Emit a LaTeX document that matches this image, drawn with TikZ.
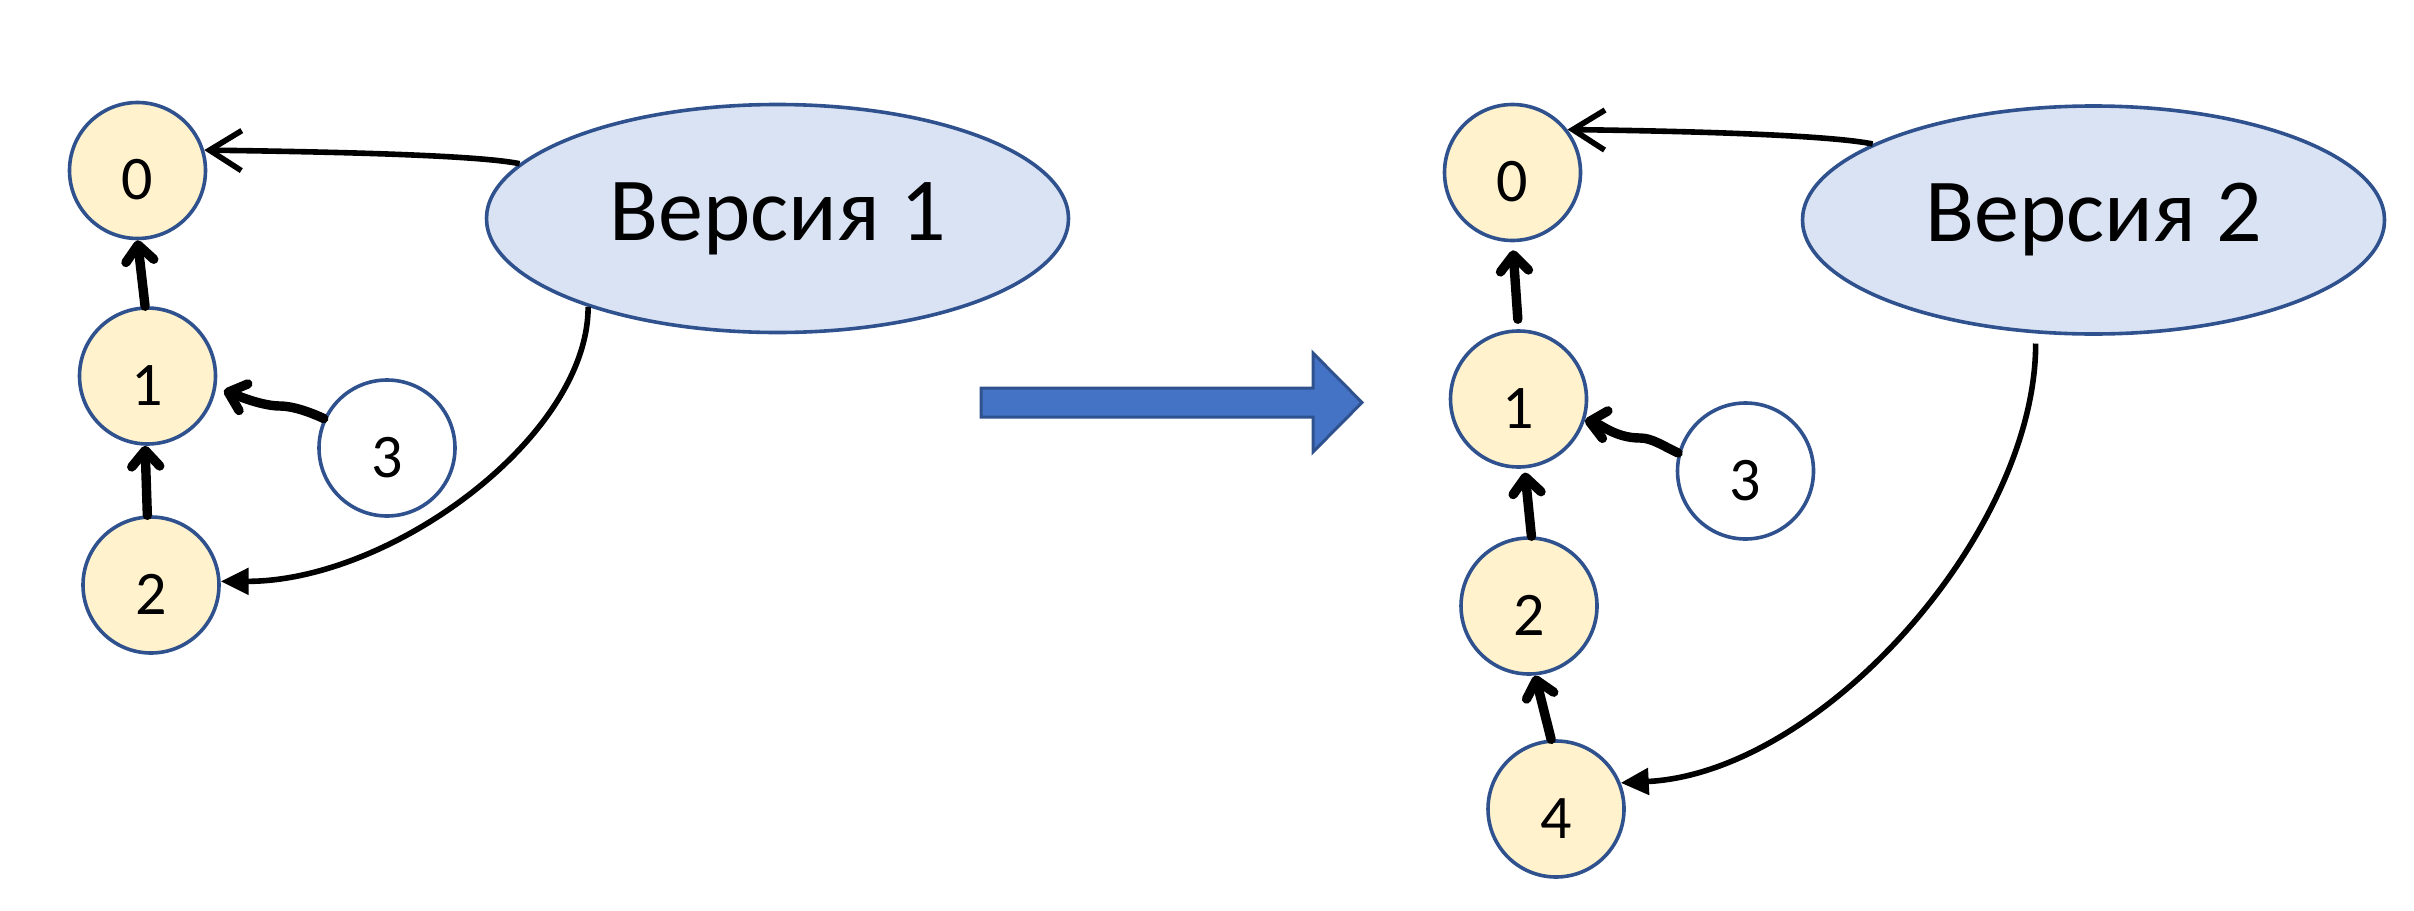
\documentclass[tikz,border=0pt]{standalone}
\usepackage{fontspec}
\setmainfont{Carlito}
\usetikzlibrary{arrows.meta,shapes.geometric}
\definecolor{nodeedge}{HTML}{2F528F}
\definecolor{nodefill}{HTML}{FFF2CC}
\definecolor{verfill}{HTML}{DAE3F3}
\definecolor{bigarrow}{HTML}{4472C4}

\begin{document}
\begin{tikzpicture}[x=0.5pt,y=-0.5pt,
  vnode/.style={circle, draw=nodeedge, line width=1.8pt, fill=nodefill,
    minimum size=68pt, inner sep=0pt, font=\fontsize{31}{31}\selectfont,
    text height=29pt, text depth=0pt},
  freenode/.style={vnode, fill=white},
  version/.style={ellipse, draw=nodeedge, line width=1.8pt, fill=verfill,
    minimum width=291pt, minimum height=114pt, inner sep=0pt,
    font=\fontsize{45}{45}\selectfont},
  link/.style={line width=4.7pt, line cap=round, line join=round,
    -{Straight Barb[length=8pt,width=14pt,round]}},
  headref/.style={line width=2.8pt, -{Straight Barb[length=16pt,width=20pt]}},
  rootref/.style={line width=2.8pt, -{Triangle[length=14pt,width=13pt]}}]

\useasboundingbox (0,0) rectangle (2414,910);

% ---- version 1 ----
\node[vnode] (a0) at (137.5,170.5) {0};
\node[vnode] (a1) at (147.5,376) {1};
\node[vnode] (a2) at (151,585) {2};
\node[freenode] (a3) at (387,448) {3};
\node[version] (v1) at (777.5,218.5) {Версия 1};

\draw[headref] (v1.168) .. controls +(-40,-8) and +(150,2) .. (a0.17);
\draw[rootref] (v1.205) .. controls +(0,130) and +(170,0) .. (a2.3);
\draw[link] (a1.92) -- (a0.270);
\draw[link] (a2.93) -- (a1.268);
\coordinate (w1) at (280,406);
\draw[link, shorten >=4pt] (a3.155) .. controls +(-15,-7) and +(12,0) .. (w1)
  .. controls +(-20,0) and +(15,5) .. (a1.-10);

% ---- transition ----
\draw[fill=bigarrow, draw=nodeedge, line width=1.5pt, line join=miter]
  (981,388) -- (1313,388) -- (1313,353) -- (1362,402.5) -- (1313,452)
  -- (1313,417) -- (981,417) -- cycle;

% ---- version 2 ----
\node[vnode] (b0) at (1512.5,172.5) {0};
\node[vnode] (b1) at (1518.5,399) {1};
\node[vnode] (b2) at (1529,606) {2};
\node[vnode] (b4) at (1556,809) {4};
\node[freenode] (b3) at (1745.5,471) {3};
\node[version] (v2) at (2093.5,220) {Версия 2};

\draw[headref] (v2.161) .. controls +(-40,-8) and +(150,2) .. (b0.38);
\draw[rootref, shorten <=5pt] (v2.243) .. controls +(0,200) and +(200,-10) .. (b4.22);
\draw[link, shorten <=5pt, shorten >=4pt] (b1.north) -- (b0.south);
\draw[link, shorten >=2pt] (b2.88) -- (b1.275);
\draw[link] (b4.94) -- (b2.275);
\coordinate (w2) at (1640,438);
\draw[link] (b3.165) .. controls +(-15,-7) and +(12,0) .. (w2)
  .. controls +(-25,0) and +(15,3) .. (b1.-18);

\end{tikzpicture}
\end{document}
